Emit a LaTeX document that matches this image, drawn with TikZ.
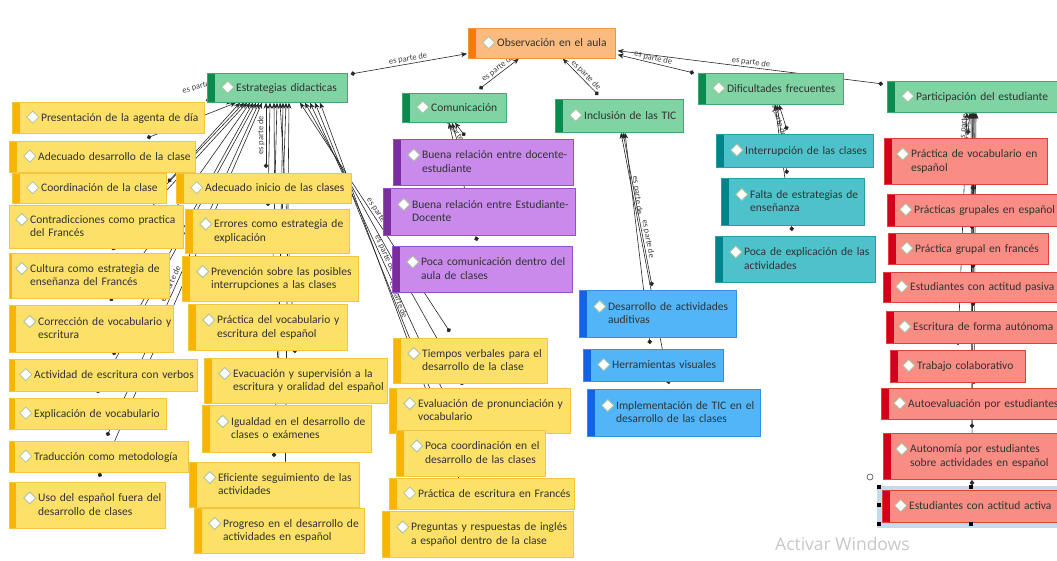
\documentclass[tikz,border=0pt]{standalone}
\usepackage{fontspec}
\setmainfont{Carlito}
\newfontfamily\wmf{Open Sans}
\usetikzlibrary{arrows.meta,calc}
\pgfdeclarelayer{bg}
\pgfsetlayers{bg,main}
\definecolor{ofill}{HTML}{FBBA7E}
\definecolor{oedge}{HTML}{F0963C}
\definecolor{ostr}{HTML}{F57A0A}
\definecolor{gfill}{HTML}{80D3A2}
\definecolor{gedge}{HTML}{3FA870}
\definecolor{gstr}{HTML}{0A8A4E}
\definecolor{pfill}{HTML}{C98AEB}
\definecolor{pedge}{HTML}{9B4DC7}
\definecolor{pstr}{HTML}{7A2E9E}
\definecolor{tfill}{HTML}{4EC2CB}
\definecolor{tedge}{HTML}{2A9EA6}
\definecolor{tstr}{HTML}{00838A}
\definecolor{bfill}{HTML}{52B5F8}
\definecolor{bedge}{HTML}{3590E0}
\definecolor{bstr}{HTML}{1262E6}
\definecolor{rfill}{HTML}{F98D84}
\definecolor{redge}{HTML}{E0403A}
\definecolor{rstr}{HTML}{D4001A}
\definecolor{yfill}{HTML}{FCE068}
\definecolor{yedge}{HTML}{F2C53C}
\definecolor{ystr}{HTML}{F8B500}
\definecolor{txt}{HTML}{303333}
\definecolor{diaedge}{HTML}{A8C4A0}
\definecolor{selblue}{HTML}{C6D9EE}
\def\cpad{14}
\def\csw{8}
\newcommand{\dia}{\tikz[x=1pt,y=1pt,baseline=-4pt]\draw[draw=diaedge,fill=white,line width=0.8pt] (0,0)--(6,6)--(12,0)--(6,-6)--cycle;}
\newcommand{\cbx}[7]{%
  \pgfmathsetmacro\cbw{#5-#3-2*\cpad}%
  \pgfmathsetmacro\cbh{#6-#4}%
  \node[#1, inner xsep=\cpad pt, text width=\cbw pt, minimum height=\cbh pt] (#2) at (#3,#4)
    {\noindent\mbox{\dia\hspace{2pt}\begin{tabular}[t]{@{}l@{}}#7\end{tabular}}};}
\tikzset{
  box/.style={anchor=north west, inner ysep=0pt, line width=0.7pt,
    font=\fontsize{11.5}{13.2}\selectfont, text=txt, align=left},
  colbox/.style n args={3}{box, fill=#1, draw=#2,
    path picture={\fill[#3] (path picture bounding box.north west) rectangle ([xshift=\csw pt]path picture bounding box.south west);}},
  orn/.style={colbox={ofill}{oedge}{ostr}},
  grn/.style={colbox={gfill}{gedge}{gstr}},
  pur/.style={colbox={pfill}{pedge}{pstr}},
  tea/.style={colbox={tfill}{tedge}{tstr}},
  blu/.style={colbox={bfill}{bedge}{bstr}},
  rd/.style={colbox={rfill}{redge}{rstr}},
  yel/.style={colbox={yfill}{yedge}{ystr}},
  rel/.style={draw=black!85, line width=0.6pt, {Circle[length=4.5pt]}-{Stealth[length=6pt,width=5pt]}},
  lbl/.style={font=\fontsize{8.5}{9}\selectfont, text=black!75, inner sep=1pt},
}
\newcommand{\ye}[4]{\draw[rel] ($(#1.north west)+(#2,#3)$) -- ($(estr.south west)+(#4,0)$);}
\begin{document}
\begin{tikzpicture}[x=1pt,y=-1pt]
\useasboundingbox (0,0) rectangle (1057,560);
% ---------- top level ----------
\cbx{orn}{obs}{468}{28}{615}{58}{Observación en el aula}
\cbx{grn}{estr}{207}{73}{347}{102}{Estrategias didacticas}
\cbx{grn}{com}{402}{93}{506}{122}{Comunicación}
\cbx{grn}{incl}{555}{99}{683}{132}{Inclusión de las TIC}
\cbx{grn}{dif}{698}{73}{843}{104}{Dificultades frecuentes}
\cbx{grn}{part}{887}{81}{1065}{112}{Participación del estudiante}
% ---------- purple ----------
\cbx{pur}{buena1}{393}{139}{573}{185}{Buena relación entre docente-\\estudiante}
\cbx{pur}{buena2}{383}{188}{575}{235}{Buena relación entre Estudiante-\\Docente}
\cbx{pur}{pocacom}{392}{246}{572}{292}{Poca comunicación dentro del\\aula de clases}
% ---------- teal ----------
\cbx{tea}{interr}{716}{134}{873}{167}{Interrupción de las clases}
\cbx{tea}{falta}{721}{178}{864}{225}{Falta de estrategias de\\enseñanza}
\cbx{tea}{pocaexp}{715}{236}{875}{282}{Poca de explicación de las\\actividades}
% ---------- blue ----------
\cbx{blu}{desaud}{579}{290}{736}{337}{Desarrollo de actividades\\auditivas}
\cbx{blu}{herr}{583}{349}{723}{381}{Herramientas visuales}
\cbx{blu}{impl}{587}{389}{760}{436}{Implementación de TIC en el\\desarrollo de las clases}
% ---------- red ----------
\def\cpad{12}
\cbx{rd}{pvoc}{884}{138}{1047}{184}{Práctica de vocabulario en\\español}
\cbx{rd}{pgrup}{887}{194}{1065}{226}{Prácticas grupales en español}
\cbx{rd}{pgfr}{888}{233}{1048}{264}{Práctica grupal en francés}
\cbx{rd}{pasiva}{883}{272}{1065}{302}{Estudiantes con actitud pasiva}
\cbx{rd}{escaut}{886}{311}{1065}{343}{Escritura de forma autónoma}
\cbx{rd}{trab}{890}{350}{1025}{382}{Trabajo colaborativo}
\cbx{rd}{autoev}{881}{388}{1065}{419}{Autoevaluación por estudiantes}
\cbx{rd}{autonom}{883}{433}{1065}{479}{Autonomía por estudiantes\\sobre actividades en español}
\cbx{rd}{activa}{882}{490}{1065}{522}{Estudiantes con actitud activa}
\def\cpad{14}
% ---------- yellow, left column ----------
\cbx{yel}{pres}{12}{102}{204}{133}{Presentación de la agenta de día}
\cbx{yel}{adedes}{9}{141}{195}{172}{Adecuado desarrollo de la clase}
\cbx{yel}{coord}{12}{173}{166}{203}{Coordinación de la clase}
\def\cpad{6}\def\csw{0}
\cbx{yel}{contr}{9}{205}{183}{248}{Contradicciones como practica\\del Francés}
\def\csw{3}
\cbx{yel}{cult}{9}{253}{169}{298}{Cultura como estrategia de\\enseñanza del Francés}
\def\cpad{14}\def\csw{7}
\cbx{yel}{correc}{9}{305}{173}{352}{Corrección de vocabulario y\\escritura}
\def\cpad{10}\def\csw{6}
\cbx{yel}{activ}{9}{359}{197}{391}{Actividad de escritura con verbos}
\cbx{yel}{explic}{9}{398}{166}{429}{Explicación de vocabulario}
\cbx{yel}{trad}{9}{441}{188}{472}{Traducción como metodología}
\def\cpad{14}\def\csw{7}
\cbx{yel}{uso}{9}{482}{165}{528}{Uso del español fuera del\\desarrollo de clases}
\def\csw{8}
% ---------- yellow, middle column ----------
\cbx{yel}{adeini}{176}{173}{351}{203}{Adecuado inicio de las clases}
\cbx{yel}{errores}{185}{209}{349}{253}{Errores como estrategia de\\explicación}
\cbx{yel}{prev}{182}{256}{358}{301}{Prevención sobre las posibles\\interrupciones a las clases}
\cbx{yel}{practvoc}{188}{304}{347}{350}{Práctica del vocabulario y\\escritura del español}
\cbx{yel}{evac}{204}{358}{387}{403}{Evacuación y supervisión a la\\escritura y oralidad del español}
\cbx{yel}{igual}{202}{405}{371}{452}{Igualdad en el desarrollo de\\clases o exámenes}
\cbx{yel}{efic}{189}{462}{359}{507}{Eficiente seguimiento de las\\actividades}
\cbx{yel}{progreso}{194}{508}{364}{553}{Progreso en el desarrollo de\\actividades en español}
% ---------- yellow, right column ----------
\cbx{yel}{tiempos}{393}{338}{547}{383}{Tiempos verbales para el\\desarrollo de la clase}
\cbx{yel}{evalpr}{389}{388}{570}{433}{Evaluación de pronunciación y\\vocabulario}
\cbx{yel}{pocacoord}{396}{430}{545}{476}{Poca coordinación en el\\desarrollo de las clases}
\cbx{yel}{practesc}{389}{478}{574}{509}{Práctica de escritura en Francés}
\cbx{yel}{preguntas}{382}{511}{573}{557}{Preguntas y respuestas de inglés\\a español dentro de la clase}
% ---------- selection marks ----------
\foreach \dx/\dy in {-3/-3,-3/15,-3/34,89/-3,89/34}
  \fill[black] ($(activa.north west)+(\dx-2,\dy-2)$) rectangle ++(4,4);
\draw[black!70, line width=0.6pt, fill=white] ($(activa.north west)+(-12,-13)$) circle (3pt);
\node[anchor=west, text=black!22, font=\wmf\fontsize{17.5}{20}\selectfont, inner sep=0pt] (wm) at (775,544) {Activar Windows};
% ---------- connectors (behind) ----------
\begin{pgfonlayer}{bg}
\fill[selblue] ($(activa.north west)+(-5,-4)$) rectangle ($(activa.south east)+(0,5)$);
\node[lbl, rotate=15, anchor=south west] (hid) at ($(pres.north east)+(-22,-6)$) {es parte de};
% to Observación
\draw[rel] ($(estr.north east)+(3,1)$) -- node[lbl,sloped,above]{es parte de} ($(obs.south west)+(-1,-5)$);
\draw[rel] ($(com.north)+(25,-4)$) -- node[lbl,sloped,above,pos=0.55]{es parte de} ($(obs.south)+(-23,0)$);
\draw[rel] ($(incl.north)+(-21,-4)$) -- node[lbl,sloped,above,pos=0.45]{es parte de} ($(obs.south)+(21,0)$);
\draw[rel] ($(dif.north west)+(-4,0)$) -- node[lbl,sloped,above,pos=0.55]{es parte de} ($(obs.south east)+(2,-4)$);
\draw[rel] ($(part.north west)+(-4,3)$) -- node[lbl,sloped,above,pos=0.5]{es parte de} ($(obs.south east)+(2,-8)$);
% yellow to Estrategias
\ye{pres}{194}{-2}{25}
\ye{adedes}{138}{-3}{29}
\ye{coord}{156}{9}{33}
\ye{contr}{141}{-3}{37}
\ye{cult}{103}{-3}{40}
\ye{correc}{101}{-4}{43}
\ye{activ}{104}{-4}{46}
\ye{explic}{88}{-5}{49}
\draw[rel] ($(trad.north west)+(98,-5)$) -- node[lbl,sloped,above,pos=0.45]{es parte de} ($(estr.south west)+(52,0)$);
\ye{uso}{90}{-5}{55}
\draw[rel] ($(adeini.north west)+(90,-5)$) -- node[lbl,sloped,above,pos=0.5]{es parte de} ($(estr.south west)+(59,0)$);
\ye{errores}{83}{-3}{63}
\ye{prev}{93}{-2}{67}
\ye{practvoc}{84}{-3}{70}
\ye{evac}{91}{-5}{73}
\ye{igual}{76}{-1}{76}
\ye{efic}{85}{-5}{79}
\ye{progreso}{91}{-2}{82}
\draw[rel] ($(tiempos.north west)+(57,-6)$) -- node[lbl,sloped,above,pos=0.5]{es parte de} ($(estr.south west)+(93,0)$);
\ye{evalpr}{74}{-3}{98}
\draw[rel] ($(pocacoord.north west)+(64,-2)$) -- node[lbl,sloped,above,pos=0.53]{es parte de} ($(estr.south west)+(103,0)$);
\ye{practesc}{76}{-2}{108}
\draw[rel] ($(preguntas.north west)+(88,-2)$) -- node[lbl,sloped,above,pos=0.51]{es parte de} ($(estr.south west)+(113,0)$);
% purple to Comunicación
\draw[rel] ($(buena1.north west)+(72,-3)$) -- node[lbl,sloped,below,pos=0.4]{es parte de} ($(com.south west)+(53,0)$);
\draw[rel] ($(buena2.north west)+(87,-2)$) -- ($(com.south west)+(50,0)$);
\draw[rel] ($(pocacom.north west)+(85,-5)$) -- ($(com.south west)+(47,0)$);
% blue to Inclusión
\draw[rel] ($(desaud.north west)+(73,-4)$) -- node[lbl,sloped,above,pos=0.3]{es parte de} ($(incl.south west)+(68,0)$);
\draw[rel] ($(herr.north west)+(67,-5)$) -- node[lbl,sloped,above,pos=0.7]{es parte de} ($(incl.south west)+(70,0)$);
\draw[rel] ($(impl.north west)+(82,-5)$) -- ($(incl.south west)+(66,0)$);
% teal to Dificultades
\draw[rel] ($(interr.north west)+(71,-4)$) -- node[lbl,sloped,below,pos=0.5]{es parte de} ($(dif.south west)+(81,0)$);
\draw[rel] ($(falta.north west)+(66,-4)$) -- ($(dif.south west)+(79,0)$);
\draw[rel] ($(pocaexp.north west)+(77,-5)$) -- ($(dif.south west)+(77,0)$);
% red to Participación
\draw[rel] ($(pvoc.north west)+(84,-4)$) -- node[lbl,sloped,above,pos=0.5]{es parte de} ($(part.south west)+(83,0)$);
\draw[rel] ($(pgrup.north west)+(86,-4)$) -- node[lbl,sloped,below,pos=0.82]{es parte de} ($(part.south west)+(85,0)$);
\draw[rel] ($(pgfr.north west)+(84,-4)$) -- ($(part.south west)+(86,0)$);
\draw[rel] ($(pasiva.north west)+(90,-4)$) -- ($(part.south west)+(87,0)$);
\draw[rel] ($(escaut.north west)+(87,-5)$) -- ($(part.south west)+(88,0)$);
\draw[rel] ($(trab.north west)+(68,-5)$) -- ($(part.south west)+(80,0)$);
\draw[rel] ($(autoev.north west)+(93,-4)$) -- ($(part.south west)+(89,0)$);
\draw[rel] ($(autonom.north west)+(89,-5)$) -- ($(part.south west)+(84,0)$);
\draw[rel] ($(activa.north west)+(90,-5)$) -- ($(part.south west)+(86,0)$);
\end{pgfonlayer}
\end{tikzpicture}
\end{document}
